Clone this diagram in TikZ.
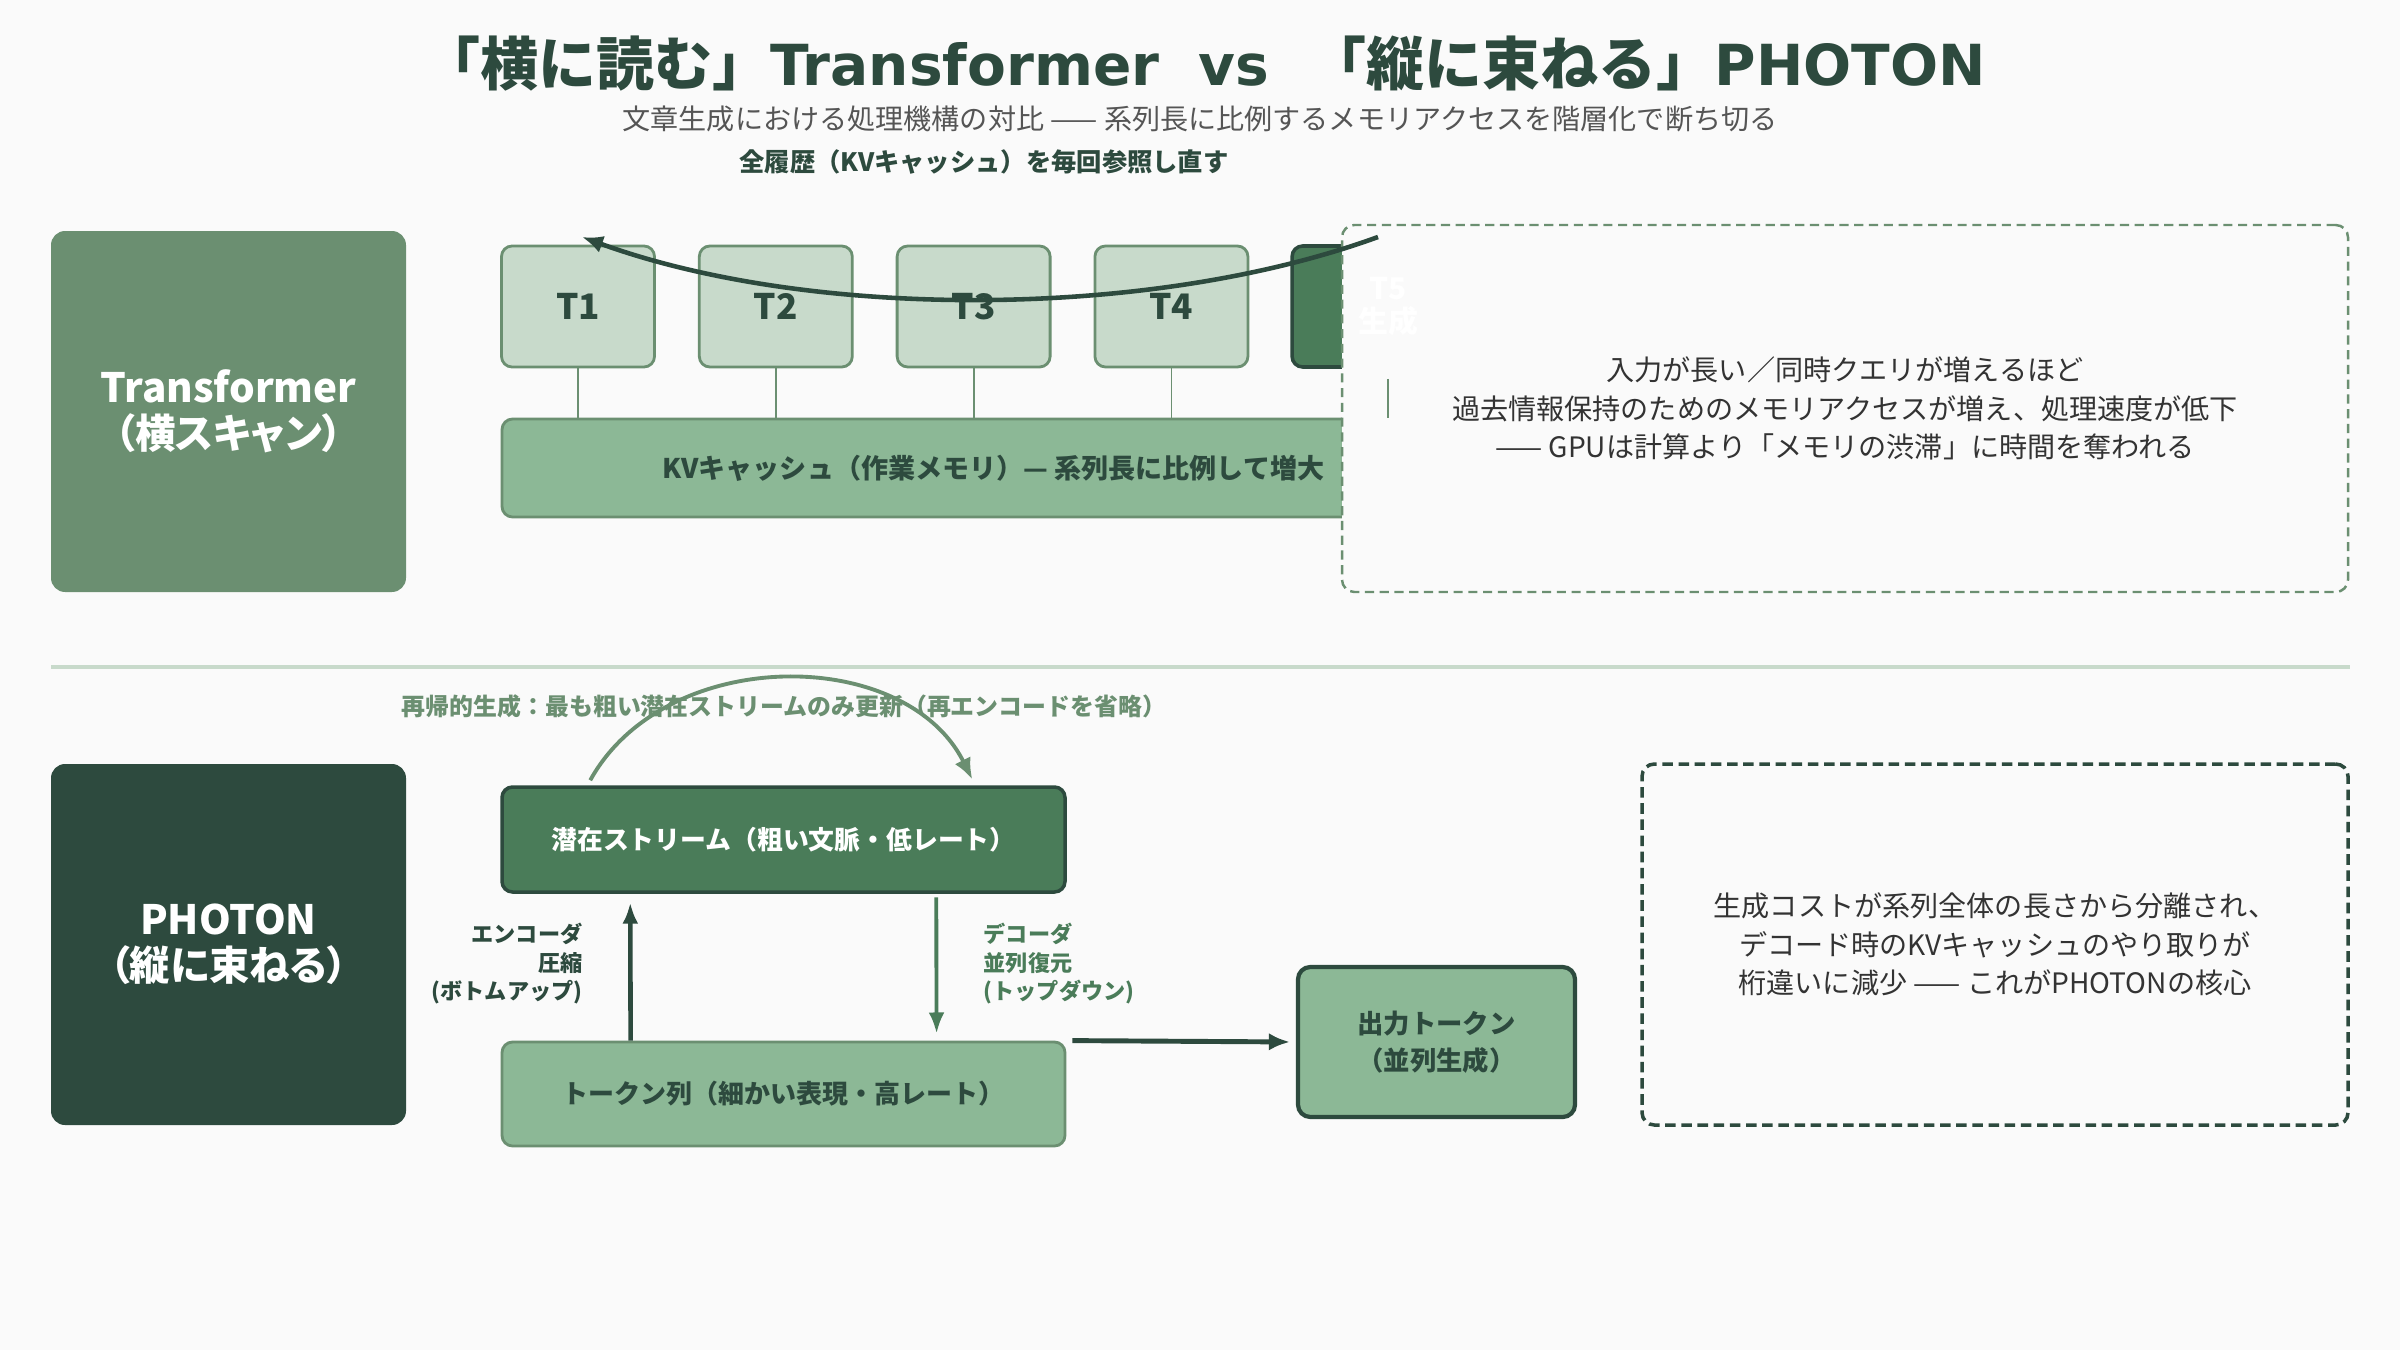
\documentclass[tikz,border=0pt]{standalone}
\usepackage{fontspec}
\setmainfont{Noto Sans CJK JP}
\newfontfamily\latinb{DejaVu Sans}
\usepackage{tikz}
\usetikzlibrary{arrows.meta,positioning,calc}

\definecolor{bgc}{HTML}{FAFAFA}
\definecolor{deep}{HTML}{2D4A3E}
\definecolor{mid}{HTML}{4A7C59}
\definecolor{sage}{HTML}{6B8F71}
\definecolor{leaf}{HTML}{8CB896}
\definecolor{pale}{HTML}{C8DACB}
\definecolor{ink}{HTML}{333333}
\definecolor{greytxt}{HTML}{555555}
\newcommand{\fsz}[2]{\fontsize{#1}{#2}\selectfont}
\newcommand{\tparen}[1]{{\addfontfeature{RawFeature=+palt}（#1）}}

\begin{document}
\begin{tikzpicture}[x=0.1mm,y=-0.1mm,
  tokbox/.style={draw=sage,fill=pale,line width=0.8pt,rounded corners=3pt,
    minimum width=15.3mm,minimum height=12.1mm,text=deep,font=\fsz{10pt}{12pt}\bfseries},
  sidebox/.style={rounded corners=4pt,minimum width=35.5mm,minimum height=36.1mm,
    text=white,align=center,font=\fsz{11.5pt}{13pt}\bfseries},
  notebox/.style={rounded corners=3.5pt,fill=bgc,align=center,text=ink,
    font=\fsz{8pt}{11pt}},
  kvlink/.style={draw=sage,line width=0.5pt}]
  \useasboundingbox[fill=bgc] (0,0) rectangle (2400,1350);

  % titolo
  \node[text=deep,font=\fsz{16.5pt}{18pt}\bfseries] (title) at (1204,64)
    {「横に読む」{\latinb\fontsize{16.1pt}{18pt}\selectfont Transformer\ \ vs\ \ }「縦に束ねる」{\latinb\fontsize{16.1pt}{18pt}\selectfont PHOTON}};
  \node[text=greytxt,font=\fsz{8pt}{10pt}] (subtitle) at (1200,119)
    {文章生成における処理機構の対比 —— 系列長に比例するメモリアクセスを階層化で断ち切る};
  \node[text=deep,font=\fsz{7.2pt}{9pt}\bfseries] (scanlab) at (984,162)
    {全履歴（KVキャッシュ）を毎回参照し直す};

  % Transformer
  \node[sidebox,fill=sage] (trf) at (228.5,411.5) {Transformer\\\tparen{横スキャン}};
  \node[tokbox] (t1) at (578,306.5) {T1};
  \node[tokbox,right=4.2mm of t1] (t2) {T2};
  \node[tokbox,right=4.2mm of t2] (t3) {T3};
  \node[tokbox,right=4.2mm of t3] (t4) {T4};
  \node[tokbox,right=4.1mm of t4,fill=mid,draw=deep,line width=1pt,
    minimum width=19.2mm] (t5) {};
  \node[draw=sage,fill=leaf,line width=0.8pt,rounded corners=3pt,
    minimum width=98.3mm,minimum height=9.8mm,text=deep,
    font=\fsz{7.7pt}{9pt}\bfseries] (kv) at (993.5,468)
    {KVキャッシュ（作業メモリ）— 系列長に比例して増大};
  \foreach \t in {t1,t2,t3,t4}
    \draw[kvlink] (\t.south) -- (\t.south |- kv.north);
  % nota in alto
  \node[notebox,draw=sage,line width=0.7pt,dash pattern=on 2.6pt off 1.6pt,
    minimum width=100.6mm,minimum height=36.7mm] (note1) at (1845,408.5)
    {入力が長い／同時クエリが増えるほど\\
     過去情報保持のためのメモリアクセスが増え、処理速度が低下\\
     —— GPUは計算より「メモリの渋滞」に時間を奪われる};
  \node[text=white,align=center,font=\fsz{8.5pt}{9.4pt}\bfseries] (t5lab) at (t5) {T5\\生成};
  \draw[kvlink] ([yshift=-1mm]t5.south) -- (t5.south |- kv.north);
  \coordinate (scanfrom) at (1378,237);
  \coordinate (scanto) at (582,237);
  \draw[-{Latex[length=6pt,width=5pt]},deep,line width=1.3pt]
    (scanfrom) .. controls (1150,320) and (810,320) .. (scanto);

  % separatore
  \draw[pale,line width=1.2pt] (51,667) -- (2350,667);

  % PHOTON
  \node[sidebox,fill=deep] (pht) at (228.5,944.5) {PHOTON\\\tparen{縦に束ねる}};
  \node[draw=deep,fill=mid,line width=1pt,rounded corners=3pt,
    minimum width=56.3mm,minimum height=10.5mm,text=white,
    font=\fsz{7.35pt}{9pt}\bfseries] (lat) at (783.5,839.5)
    {潜在ストリーム（粗い文脈・低レート）};
  \node[draw=sage,fill=leaf,line width=0.8pt,rounded corners=3pt,
    minimum width=56.3mm,minimum height=10.4mm,text=deep,
    font=\fsz{7.4pt}{9pt}\bfseries] (tok) at (783.5,1094)
    {トークン列（細かい表現・高レート）};
  \node[draw=deep,fill=leaf,line width=1.2pt,rounded corners=3.5pt,
    minimum width=27.7mm,minimum height=15mm,align=center,text=deep,
    font=\fsz{7.5pt}{10.5pt}\bfseries] (out) at (1436.5,1042)
    {出力トークン\\（並列生成）};
  % encoder / decoder
  \draw[-{Latex[length=6pt,width=4.5pt]},deep,line width=1.3pt,shorten >=2.5pt]
    ([xshift=13mm]tok.north west) -- ([xshift=13mm]lat.south west);
  \draw[-{Latex[length=6pt,width=4.5pt]},mid,line width=1.1pt,shorten >=2pt,shorten <=1pt]
    ([xshift=43.6mm]lat.south west) -- ([xshift=43.6mm]tok.north west);
  \node[anchor=east,align=right,inner sep=0pt,text=deep,font=\fsz{6.3pt}{8.1pt}\bfseries]
    (enclab) at (583,964) {エンコーダ\\圧縮\\(ボトムアップ)};
  \node[anchor=west,align=left,inner sep=0pt,text=mid,font=\fsz{6.3pt}{8.1pt}\bfseries]
    (declab) at (983,964) {デコーダ\\並列復元\\(トップダウン)};
  \draw[-{Latex[length=6pt,width=5pt]},deep,line width=1.4pt,shorten >=0.6mm]
    ([xshift=0.6mm]tok.north east) -- (out.west);
  % ricorsione
  \node[text=sage,font=\fsz{6.8pt}{9pt}\bfseries] (reclab) at (784,706)
    {再帰的生成：最も粗い潜在ストリームのみ更新（再エンコードを省略）};
  \draw[-{Latex[length=6pt,width=5pt]},sage,line width=1.1pt]
    ([xshift=9mm,yshift=0.5mm]lat.north west) .. controls (665,645) and (905,645) ..
    ([xshift=47.2mm,yshift=0.6mm]lat.north west);
  % nota in basso
  \node[notebox,draw=deep,line width=1pt,dash pattern=on 3pt off 1.6pt,
    minimum width=70.6mm,minimum height=36.1mm] (note2) at (1995,944.5)
    {生成コストが系列全体の長さから分離され、\\
     デコード時のKVキャッシュのやり取りが\\
     桁違いに減少 —— これがPHOTONの核心};
\end{tikzpicture}
\end{document}
